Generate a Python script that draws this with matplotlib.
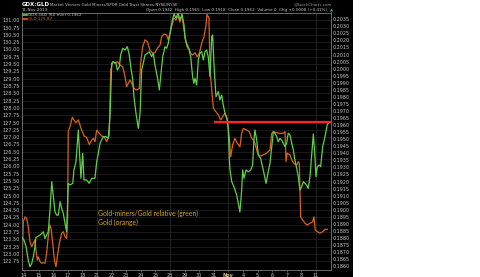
"""
GDX:GLD 60-minute ratio vs GLD, StockCharts-style dark chart.
Saves out.png (480x277).
"""
import numpy as np
import matplotlib
matplotlib.use("Agg")
import matplotlib.pyplot as plt
from matplotlib.patches import Rectangle

W, H, DPI = 480, 277, 100

# x = trading days since 14-Oct-2013 (60 min bars)
GLD_T = [-0.14, -0.05, 0.07, 0.18, 0.29, 0.41, 0.53, 0.64, 0.75, 0.82, 0.91, 0.98,
         1.10, 1.21, 1.32, 1.44, 1.55, 1.66, 1.78, 1.85, 1.97, 2.08, 2.19, 2.28,
         2.42, 2.58, 2.69, 2.81, 2.92, 2.99, 3.03, 3.15, 3.31, 3.42, 3.56, 3.72,
         3.84, 3.95, 4.11, 4.29, 4.47, 4.64, 4.75, 4.86, 4.98, 5.16, 5.32, 5.50,
         5.66, 5.84, 5.94, 6.08, 6.23, 6.39, 6.58, 6.76, 6.92, 7.03, 7.14, 7.26,
         7.38, 7.53, 7.72, 7.90, 7.99, 8.13, 8.29, 8.45, 8.63, 8.82, 8.97, 9.13,
         9.32, 9.43, 9.59, 9.77, 9.88, 10.00, 10.14, 10.27, 10.41, 10.55, 10.68, 10.82,
         10.96, 11.10, 11.25, 11.42, 11.55, 11.71, 11.87, 12.01, 12.17, 12.33, 12.47, 12.53,
         12.67, 12.74, 12.86, 12.97, 13.15, 13.31, 13.47, 13.61, 13.77, 13.92, 14.06, 14.16,
         14.29, 14.45, 14.61, 14.79, 14.91, 15.02, 15.25, 15.43, 15.60, 15.71, 15.82, 15.94,
         16.05, 16.21, 16.39, 16.62, 16.85, 16.97, 17.08, 17.31, 17.53, 17.76, 17.88, 17.95,
         18.03, 18.22, 18.34, 18.49, 18.68, 18.79, 18.86, 18.95, 19.09, 19.25, 19.40, 19.59,
         19.77, 19.86, 19.95, 20.09, 20.27, 20.46, 20.62, 20.77]
GLD_PX = [122.51, 124.10, 124.27, 124.22, 123.93, 123.42, 123.25, 123.36, 123.48, 123.13, 122.79, 122.90,
          122.73, 122.68, 122.70, 122.68, 123.02, 123.59, 123.99, 123.88, 123.36, 122.79, 122.56, 122.90,
          123.36, 123.71, 123.76, 123.59, 123.53, 124.27, 127.19, 127.36, 127.68, 127.59, 127.49, 127.59,
          127.41, 127.24, 127.04, 126.99, 126.75, 126.90, 126.96, 126.84, 127.24, 127.13, 127.04, 127.01,
          126.84, 127.07, 129.30, 129.58, 129.53, 129.58, 129.47, 129.41, 129.07, 128.73, 128.84, 128.96,
          128.84, 128.67, 128.61, 128.67, 129.53, 130.10, 130.33, 130.27, 129.98, 129.87, 129.89, 130.04,
          130.15, 130.44, 130.53, 130.50, 130.33, 130.55, 130.84, 131.08, 131.01, 131.15, 130.94, 131.20,
          130.67, 130.27, 130.10, 129.87, 129.81, 129.89, 129.75, 129.87, 130.21, 130.44, 130.84, 131.20,
          131.08, 129.30, 128.61, 127.99, 127.87, 127.76, 127.59, 127.70, 127.82, 127.64, 127.01, 126.33,
          126.73, 126.96, 126.79, 126.67, 127.13, 127.30, 127.24, 127.19, 126.96, 126.90, 126.79, 126.56,
          126.39, 126.35, 126.39, 126.45, 126.56, 127.13, 127.19, 127.15, 127.13, 127.13, 127.19, 126.16,
          126.45, 126.39, 126.22, 126.10, 126.04, 126.16, 126.10, 124.27, 124.16, 124.05, 123.99, 124.05,
          124.10, 124.27, 123.82, 123.76, 123.71, 123.76, 123.84, 123.84]

RATIO_T = [-0.14, 0.00, 0.14, 0.29, 0.41, 0.53, 0.64, 0.75, 0.82, 0.98, 1.10, 1.21,
           1.32, 1.44, 1.55, 1.66, 1.78, 1.90, 2.01, 2.12, 2.24, 2.35, 2.47, 2.58,
           2.69, 2.81, 2.92, 3.03, 3.15, 3.34, 3.42, 3.56, 3.72, 3.84, 3.90, 4.02,
           4.11, 4.29, 4.47, 4.64, 4.86, 4.98, 5.09, 5.21, 5.32, 5.43, 5.62, 5.77,
           5.89, 6.01, 6.12, 6.30, 6.39, 6.53, 6.62, 6.76, 6.92, 7.08, 7.21, 7.31,
           7.45, 7.53, 7.67, 7.83, 7.95, 8.06, 8.17, 8.29, 8.45, 8.58, 8.75, 8.86,
           8.97, 9.13, 9.27, 9.36, 9.50, 9.66, 9.77, 9.88, 10.00, 10.14, 10.27, 10.41,
           10.55, 10.68, 10.82, 10.96, 11.03, 11.18, 11.32, 11.42, 11.55, 11.64, 11.71, 11.83,
           11.94, 12.05, 12.17, 12.28, 12.40, 12.51, 12.62, 12.74, 12.86, 12.92, 13.01, 13.15,
           13.31, 13.42, 13.54, 13.65, 13.77, 13.92, 13.99, 14.06, 14.11, 14.23, 14.38, 14.57,
           14.79, 14.91, 14.98, 15.07, 15.21, 15.36, 15.53, 15.66, 15.75, 15.82, 15.94, 16.05,
           16.21, 16.39, 16.58, 16.73, 16.85, 16.97, 17.08, 17.19, 17.31, 17.42, 17.53, 17.65,
           17.76, 17.88, 17.99, 18.10, 18.22, 18.34, 18.45, 18.56, 18.68, 18.79, 18.90, 19.02,
           19.13, 19.25, 19.36, 19.47, 19.59, 19.70, 19.82, 19.93, 20.00, 20.09, 20.23, 20.32,
           20.46, 20.62, 20.77, 20.87]
RATIO = [0.18804, 0.18785, 0.18738, 0.18643, 0.18596, 0.18620, 0.18667, 0.18738, 0.18804, 0.18814, 0.18821, 0.18833,
         0.18844, 0.18797, 0.18821, 0.18844, 0.18998, 0.19199, 0.19092, 0.18986, 0.18962, 0.18962, 0.19057, 0.19010,
         0.18975, 0.18904, 0.18844, 0.19187, 0.19175, 0.19187, 0.19282, 0.19340, 0.19565, 0.19329, 0.19223, 0.19400,
         0.19211, 0.19211, 0.19187, 0.19223, 0.19223, 0.19340, 0.19400, 0.19471, 0.19494, 0.19518, 0.19518, 0.19506,
         0.19659, 0.20038, 0.20049, 0.20038, 0.19991, 0.20014, 0.20097, 0.20144, 0.20132, 0.20156, 0.20097, 0.20014,
         0.19920, 0.19801, 0.19684, 0.19577, 0.19684, 0.19991, 0.20038, 0.20097, 0.20109, 0.20120, 0.20085, 0.20109,
         0.20026, 0.19943, 0.19849, 0.19943, 0.20085, 0.20156, 0.20144, 0.20180, 0.20251, 0.20331, 0.20388, 0.20359,
         0.20392, 0.20345, 0.20385, 0.20310, 0.20215, 0.20156, 0.20132, 0.20085, 0.19943, 0.19896, 0.19932, 0.19884,
         0.20061, 0.20109, 0.20120, 0.20061, 0.20120, 0.20132, 0.20085, 0.19943, 0.20227, 0.20239, 0.20038, 0.19801,
         0.19837, 0.19778, 0.19813, 0.19742, 0.19684, 0.19636, 0.19565, 0.19376, 0.19282, 0.19199, 0.19163, 0.19104,
         0.18984, 0.19140, 0.19282, 0.19223, 0.19282, 0.19269, 0.19282, 0.19317, 0.19494, 0.19565, 0.19494, 0.19388,
         0.19364, 0.19282, 0.19187, 0.19269, 0.19329, 0.19447, 0.19553, 0.19542, 0.19518, 0.19482, 0.19506, 0.19494,
         0.19471, 0.19447, 0.19471, 0.19542, 0.19530, 0.19471, 0.19423, 0.19352, 0.19294, 0.19234, 0.19140, 0.19163,
         0.19199, 0.19187, 0.19175, 0.19152, 0.19234, 0.19376, 0.19537, 0.19376, 0.19234, 0.19305, 0.19317, 0.19305,
         0.19447, 0.19518, 0.19601, 0.19617]

DAY_LABELS = ["14", "15", "16", "17", "18", "21", "22", "23", "24", "25", "28",
              "29", "30", "31", "Nov", "4", "5", "6", "7", "8", "11"]
WEEK_LINES = [5, 10, 14, 20]

RED_LEVEL = 0.1962
RED_START = 13.0

HEADER_NAME = "Market Vectors Gold Miners/SPDR Gold Trust Shares NYSE/NYSE"
HEADER_DATE = "11-Nov-2013"
HEADER_QUOTE = "Open 0.1942  High 0.1965  Low 0.1918  Close 0.1962  Volume 0  Chg +0.0008 (+0.41%)"
LEGEND_RATIO = "GDX:GLD (60 min) 0.1962"
LEGEND_GLD = "GLD 125.87"
NOTE_1 = "Gold-miners/Gold relative (green)"
NOTE_2 = "Gold (orange)"

GREEN = "#5fd04a"
ORANGE = "#d8621c"
LABEL = "#c4c4c4"


def fx(px):
    return px / W


def fy(py):
    return 1 - py / H


fig = plt.figure(figsize=(W / DPI, H / DPI), dpi=DPI)
fig.patch.set_facecolor("white")
bg = Rectangle((0, 0), fx(353), 1, transform=fig.transFigure,
               facecolor="black", edgecolor="none", zorder=-10)
fig.patches.append(bg)

ax = fig.add_axes([fx(22), fy(270), fx(331) - fx(22), fy(12.5) - fy(270)])
ax.set_zorder(1)
ax.set_facecolor("black")
ax.set_xlim(-0.137, 21.03)
ax.set_ylim(122.449, 131.267)

ax2 = ax.twinx()
ax2.set_zorder(2)
ax2.patch.set_visible(False)
ax2.set_ylim(0.18573, 0.20398)

ax.grid(axis="y", color="#242424", lw=0.5)
for d in WEEK_LINES:
    ax.axvline(d, color="#2e2e2e", lw=0.5, zorder=0.5)
ax.set_axisbelow(True)

ax.plot(GLD_T, GLD_PX, color=ORANGE, lw=0.9, zorder=3)
ax2.plot(RATIO_T, RATIO, color=GREEN, lw=0.9, zorder=3)
ax2.hlines(RED_LEVEL, RED_START, 21.03, color="#ff2424", lw=1.6, zorder=4)

l_ticks = np.arange(122.75, 131.01, 0.25)
ax.set_yticks(l_ticks)
ax.set_yticklabels([f"{v:.2f}" for v in l_ticks])
ax.tick_params(axis="y", length=0, labelsize=3.6, labelcolor=LABEL, pad=1.5)

r_ticks = np.arange(0.1860, 0.20351, 0.0005)
ax2.set_yticks(r_ticks)
ax2.set_yticklabels([f"{v:.4f}" for v in r_ticks])
ax2.tick_params(axis="y", length=0, labelsize=3.5, labelcolor=LABEL, pad=1.5)

ax.set_xticks(range(len(DAY_LABELS)))
ax.set_xticklabels(DAY_LABELS)
ax.tick_params(axis="x", length=1.5, width=0.4, color="#888888",
               labelsize=3.5, labelcolor=LABEL, pad=0.8)
ax.get_xticklabels()[14].set_color("#d0c080")
ax.get_xticklabels()[14].set_fontweight("bold")

for a in (ax, ax2):
    for s in a.spines.values():
        s.set_color("#6a6a6a")
        s.set_linewidth(0.6)

ax2.text(0.246, 0.221, NOTE_1, transform=ax.transAxes, color="#d8a420",
         fontsize=4.9, family="Lato", va="center", zorder=5)
ax2.text(0.246, 0.183, NOTE_2, transform=ax.transAxes, color="#d8a420",
         fontsize=4.9, family="Lato", va="center", zorder=5)

# header
fig.text(fx(22), fy(4.5), "GDX:GLD", color="white", fontsize=4.0,
         fontweight="bold", va="center")
fig.text(fx(50), fy(4.5), HEADER_NAME, color=LABEL, fontsize=2.9, va="center")
fig.text(fx(22), fy(10), HEADER_DATE, color=LABEL, fontsize=3.0, va="center")
fig.text(fx(327), fy(10), HEADER_QUOTE, color=LABEL, fontsize=3.0,
         va="center", ha="right")
fig.text(fx(331), fy(10), "\u25b2", color="#30c030", fontsize=2.8,
         va="center", ha="center")
fig.text(fx(332), fy(4), "@StockCharts.com", color="#9a9a9a", fontsize=2.9,
         va="center", ha="right")

# legend
fig.lines.append(plt.Line2D([fx(23), fx(26.5)], [fy(15), fy(15)], color=GREEN,
                            lw=1.2, transform=fig.transFigure, zorder=5))
fig.text(fx(28), fy(15), LEGEND_RATIO, color=LABEL, fontsize=3.0, va="center",
         zorder=5)
fig.lines.append(plt.Line2D([fx(23), fx(26.5)], [fy(18.7), fy(18.7)], color=ORANGE,
                            lw=1.2, transform=fig.transFigure, zorder=5))
fig.text(fx(28), fy(18.7), LEGEND_GLD, color=ORANGE, fontsize=3.0, va="center",
         zorder=5)

fig.savefig("out.png", dpi=DPI, facecolor=fig.get_facecolor())
